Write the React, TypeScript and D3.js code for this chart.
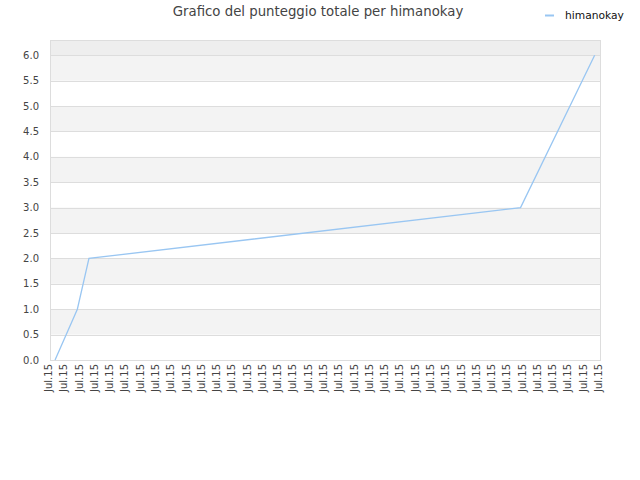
import { useEffect, useRef } from 'react'
import * as d3 from 'd3'

// x positions are in "tick units" (0 = first Jul.15 tick, 36 = last)
const tickLabels: string[] = Array.from({ length: 37 }, () => 'Jul.15')
const scoreX = [0.33, 1.79, 2.55, 30.8, 35.65]
const scoreY = [0, 1, 2, 3, 6]
const yTicks = [0, 0.5, 1, 1.5, 2, 2.5, 3, 3.5, 4, 4.5, 5, 5.5, 6]
const seriesName = 'himanokay'
const title = 'Grafico del punteggio totale per himanokay'

export default function App() {
  const svgRef = useRef<SVGSVGElement>(null)

  useEffect(() => {
    if (!svgRef.current) return
    const svg = d3.select(svgRef.current)
    svg.selectAll('*').remove()

    const width = 640
    const height = 480
    const margin = { top: 40, right: 40, bottom: 120, left: 50 }
    const innerWidth = width - margin.left - margin.right
    const innerHeight = height - margin.top - margin.bottom
    const font = '"DejaVu Sans", Verdana, sans-serif'

    const x = d3.scaleLinear().domain([0, tickLabels.length - 1]).range([0, innerWidth])
    const y = d3.scaleLinear().domain([0, 6.3]).range([innerHeight, 0])

    const g = svg.append('g').attr('transform', `translate(${margin.left},${margin.top})`)

    // background: top strip above last tick is a little darker
    g.append('rect')
      .attr('width', innerWidth)
      .attr('height', innerHeight)
      .attr('fill', '#ffffff')
    g.append('rect')
      .attr('width', innerWidth)
      .attr('height', y(6))
      .attr('fill', '#eeeeee')

    // alternating bands
    for (let i = 0; i < yTicks.length - 1; i++) {
      if (i % 2 === 1) {
        g.append('rect')
          .attr('x', 0)
          .attr('y', y(yTicks[i + 1]))
          .attr('width', innerWidth)
          .attr('height', y(yTicks[i]) - y(yTicks[i + 1]))
          .attr('fill', '#f3f3f3')
      }
    }

    // grid lines
    g.selectAll('line.grid')
      .data(yTicks)
      .enter()
      .append('line')
      .attr('x1', 0)
      .attr('x2', innerWidth)
      .attr('y1', d => Math.round(y(d)) + 0.5)
      .attr('y2', d => Math.round(y(d)) + 0.5)
      .attr('stroke', '#dddddd')
      .attr('stroke-width', 1)

    // frame
    g.append('rect')
      .attr('x', 0.5)
      .attr('y', 0.5)
      .attr('width', innerWidth)
      .attr('height', innerHeight)
      .attr('fill', 'none')
      .attr('stroke', '#dddddd')

    // y labels
    g.selectAll('text.ylab')
      .data(yTicks)
      .enter()
      .append('text')
      .attr('x', -11)
      .attr('y', d => y(d))
      .attr('dy', '0.35em')
      .attr('text-anchor', 'end')
      .attr('font-family', font)
      .attr('font-size', '10px')
      .attr('fill', '#444444')
      .text(d => d.toFixed(1))

    // x labels
    g.selectAll('text.xlab')
      .data(tickLabels)
      .enter()
      .append('text')
      .attr('transform', (_d, i) => `translate(${x(i) + 2},${innerHeight + 4}) rotate(-90)`)
      .attr('text-anchor', 'end')
      .attr('font-family', font)
      .attr('font-size', '10px')
      .attr('fill', '#444444')
      .text(d => d)

    // series line
    const pts = scoreX.map((v, i) => [v, scoreY[i]] as [number, number])
    const line = d3.line<[number, number]>()
      .x(d => x(d[0]))
      .y(d => y(d[1]))
    g.append('path')
      .datum(pts)
      .attr('fill', 'none')
      .attr('stroke', '#99c6f2')
      .attr('stroke-width', 1.3)
      .attr('d', line)

    // title
    svg.append('text')
      .attr('x', 318)
      .attr('y', 16)
      .attr('text-anchor', 'middle')
      .attr('font-family', font)
      .attr('font-size', '13.3px')
      .attr('fill', '#444444')
      .text(title)

    // legend
    svg.append('line')
      .attr('x1', 545)
      .attr('x2', 554)
      .attr('y1', 15.5)
      .attr('y2', 15.5)
      .attr('stroke', '#99c6f2')
      .attr('stroke-width', 2)
    svg.append('text')
      .attr('x', 565)
      .attr('y', 15)
      .attr('dy', '0.35em')
      .attr('font-family', font)
      .attr('font-size', '10.7px')
      .attr('fill', '#111111')
      .text(seriesName)
  }, [])

  return (
    <div style={{ position: 'absolute', left: 0, top: 0 }}>
      <svg ref={svgRef} width={640} height={480} style={{ display: 'block' }} />
    </div>
  )
}
